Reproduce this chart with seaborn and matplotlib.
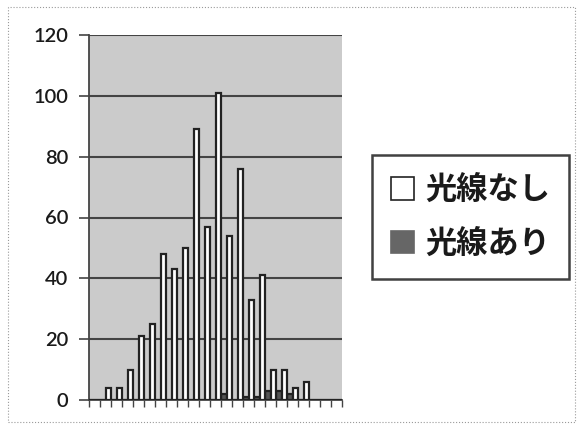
import numpy as np
import pandas as pd
import matplotlib
matplotlib.use("Agg")
import matplotlib.pyplot as plt
from matplotlib.patches import Patch, Rectangle
import seaborn as sns

# 23 measurement classes along the x axis (labels not printed)
categories = [str(i) for i in range(1, 24)]
series_names = ["光線なし", "光線あり"]
no_light = [0, 4, 4, 10, 21, 25, 48, 43, 50, 89, 57, 101, 54, 76, 33, 41, 10, 10, 4, 6, 0, 0, 0]
with_light = [0, 0, 0, 0, 0, 0, 0, 0, 0, 0, 0, 0, 2, 0, 1, 1, 3, 3, 2, 0, 0, 0, 0]
y_ticks = [0, 20, 40, 60, 80, 100, 120]

df = pd.DataFrame({
    "cat": categories * 2,
    "value": no_light + with_light,
    "series": [series_names[0]] * len(categories) + [series_names[1]] * len(categories),
})

sns.set_theme(style="white")
plt.rcParams["font.family"] = ["Noto Sans CJK JP", "DejaVu Sans"]

fig = plt.figure(figsize=(5.83, 4.29), dpi=100)
ax = fig.add_axes([89 / 583, 29 / 429, 253 / 583, 365 / 429])
ax.set_facecolor("#cbcbcb")

palette = {series_names[0]: "white", series_names[1]: "#555555"}
sns.barplot(data=df, x="cat", y="value", hue="series",
            order=categories, hue_order=[series_names[1], series_names[0]],
            palette=palette, width=0.95, edgecolor="#222222", linewidth=1.6,
            legend=False, ax=ax, zorder=3)

ax.set_ylim(0, 120)
ax.set_xlim(-0.5, len(categories) - 0.5)
ax.set_yticks(y_ticks)
ax.set_yticklabels([str(t) for t in y_ticks], fontsize=14.5, fontfamily="Lato",
                   fontweight="semibold", color="#1a1a1a")
ax.set_xticks(np.arange(-0.5, len(categories), 1.0))
ax.set_xticklabels([])
ax.set_xlabel("")
ax.set_ylabel("")
ax.yaxis.grid(True, color="#444444", linewidth=1.5, zorder=1)
ax.set_axisbelow(True)
ax.tick_params(axis="y", direction="out", length=7, width=1.2, color="#444444", pad=8, left=True)
ax.tick_params(axis="x", direction="out", length=5, width=1.0, color="#444444", bottom=True)
for side in ["top", "right"]:
    ax.spines[side].set_visible(False)
ax.spines["left"].set_color("#444444")
ax.spines["left"].set_linewidth(1.3)
ax.spines["bottom"].set_color("#444444")
ax.spines["bottom"].set_linewidth(1.3)

handles = [Patch(facecolor="white", edgecolor="#222222", linewidth=1.2),
           Patch(facecolor="#666666", edgecolor="#666666", linewidth=1.2)]
leg = fig.legend(handles, series_names, loc="center left",
                 bbox_to_anchor=(372 / 583, 1 - 217 / 429),
                 prop={"family": ["Noto Sans CJK JP", "DejaVu Sans"], "size": 22.5, "weight": "bold"},
                 frameon=True, fancybox=False, edgecolor="#111111",
                 handlelength=0.75, handleheight=0.75, handletextpad=0.35,
                 labelspacing=0.7, borderpad=0.6, borderaxespad=0)
leg.get_frame().set_linewidth(1.8)
for t in leg.get_texts():
    t.set_color("#1a1a1a")

# thin frame around the whole chart area
fig.patches.append(Rectangle((8 / 583, 7 / 429), 567 / 583, 415 / 429,
                             transform=fig.transFigure, fill=False,
                             edgecolor="#9a9a9a", linewidth=0.8, linestyle=":"))

fig.savefig("out.png", dpi=100, facecolor="white")
